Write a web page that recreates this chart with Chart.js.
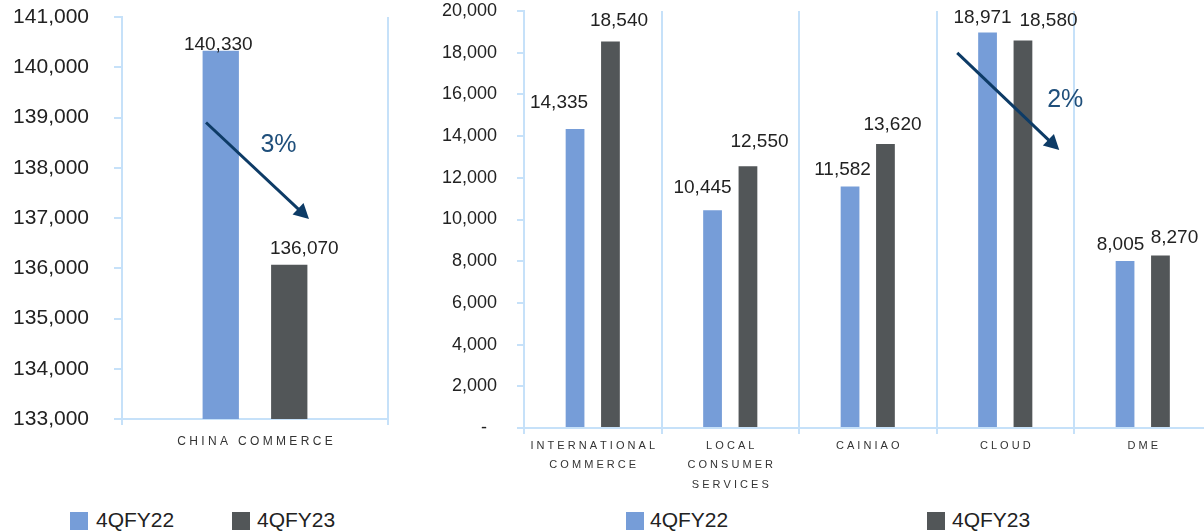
<!DOCTYPE html>
<html lang="en">
<head>
<meta charset="UTF-8">
<title>Revenue by segment, 4QFY22 vs 4QFY23</title>
<script src="https://cdn.jsdelivr.net/npm/chart.js"></script>
<style>
  html, body { margin: 0; padding: 0; background: #fff; }
  body {
    width: 1204px; height: 532px; position: relative; overflow: hidden;
    font-family: 'Liberation Sans', Arial, sans-serif; color: #222;
  }
  canvas { position: absolute; top: 0; }
  #chinaChart { left: 0; }
  #otherChart { left: 420px; }
  .legend-box { position: absolute; top: 512px; width: 18px; height: 18px; }
  .legend-text { position: absolute; top: 509px; font-size: 21px; line-height: 21px; white-space: nowrap; }
</style>
</head>
<body>
<canvas id="chinaChart" width="400" height="500"></canvas>
<canvas id="otherChart" width="800" height="500"></canvas>
<div id="legends"></div>

<script>
const seriesNames = ['4QFY22', '4QFY23'];
const seriesColors = ['#769dd8', '#525658'];

// China commerce (RMB mn)
const chinaCategories = ['CHINA COMMERCE'];
const china4QFY22 = [140330];
const china4QFY23 = [136070];
const chinaAxis = { min: 133000, max: 141000, step: 1000 };

// other segments (RMB mn)
const otherCategories = [['INTERNATIONAL', 'COMMERCE'], ['LOCAL', 'CONSUMER', 'SERVICES'], 'CAINIAO', 'CLOUD', 'DME'];
const other4QFY22 = [14335, 10445, 11582, 18971, 8005];
const other4QFY23 = [18540, 12550, 13620, 18580, 8270];
const otherAxis = { min: 0, max: 20000, step: 2000 };

// value label nudges per bar: [dx, lift above bar top], px
const chinaLabelShift = [[[-2.5, 1]], [[15, 10.5]]];
const otherLabelShift = [
    [[-16, 21], [-10, 17], [-7.5, 11.5], [-5, 9.5], [-4.5, 11]],
    [[8.5, 15], [11.5, 19], [7, 14], [25.5, 14.5], [14, 12.5]]
];

// change arrows: x as px offset from the category centre, y as a value
const chinaChange = { index: 0, text: '3%', from: [-49, 138900], to: [54, 136980], label: [23.5, 138310] };
const otherChange = { index: 3, text: '2%', from: [-48, 17990], to: [54, 13330], label: [60, 15400] };

const FONT = "'Liberation Sans', Arial, sans-serif";
const axisBlue = '#c6e1f9';
Chart.defaults.font.family = FONT;
Chart.defaults.color = '#222';

// wide letter spacing on category names
function spaced(label) {
    const lines = Array.isArray(label) ? label : [label];
    const out = lines.map(l => l.split(' ').map(w => w.split('').join(' ')).join('   '));
    return out.length === 1 ? out[0] : out;
}

const valueLabels = {
    id: 'valueLabels',
    afterDatasetsDraw(chart, args, opts) {
        const ctx = chart.ctx;
        ctx.save();
        ctx.font = '19px ' + FONT;
        ctx.fillStyle = '#222';
        ctx.textAlign = 'center';
        ctx.textBaseline = 'alphabetic';
        chart.data.datasets.forEach((ds, i) => {
            chart.getDatasetMeta(i).data.forEach((bar, j) => {
                const [dx, lift] = opts.shift[i][j];
                ctx.fillText(ds.data[j].toLocaleString('en-US'), bar.x + dx, bar.y - lift);
            });
        });
        ctx.restore();
    }
};

const changeArrow = {
    id: 'changeArrow',
    afterDatasetsDraw(chart, args, opts) {
        const { ctx, scales: { x, y } } = chart;
        const cx = x.getPixelForValue(opts.index);
        const x0 = cx + opts.from[0], y0 = y.getPixelForValue(opts.from[1]);
        const x1 = cx + opts.to[0], y1 = y.getPixelForValue(opts.to[1]);
        const ang = Math.atan2(y1 - y0, x1 - x0);
        const head = 15, half = 8;

        ctx.save();
        ctx.strokeStyle = '#0d3b66';
        ctx.fillStyle = '#0d3b66';
        ctx.lineWidth = 3;
        ctx.beginPath();
        ctx.moveTo(x0, y0);
        ctx.lineTo(x1 - Math.cos(ang) * head * 0.8, y1 - Math.sin(ang) * head * 0.8);
        ctx.stroke();
        ctx.translate(x1, y1);
        ctx.rotate(ang);
        ctx.beginPath();
        ctx.moveTo(0, 0);
        ctx.lineTo(-head, -half);
        ctx.lineTo(-head, half);
        ctx.closePath();
        ctx.fill();
        ctx.restore();

        ctx.save();
        ctx.font = '25px ' + FONT;
        ctx.fillStyle = '#1f4f7b';
        ctx.textAlign = 'center';
        ctx.textBaseline = 'alphabetic';
        ctx.fillText(opts.text, cx + opts.label[0], y.getPixelForValue(opts.label[1]));
        ctx.restore();
    }
};

function makeChart(id, cfg) {
    return new Chart(document.getElementById(id), {
        type: 'bar',
        data: {
            labels: cfg.labels,
            datasets: cfg.series.map((values, i) => ({
                label: seriesNames[i],
                data: values,
                backgroundColor: seriesColors[i],
                borderWidth: 0,
                categoryPercentage: 0.515,
                barPercentage: 0.53
            }))
        },
        options: {
            responsive: false,
            animation: false,
            layout: { padding: { top: cfg.top, right: cfg.right, left: 0, bottom: 0 } },
            plugins: {
                legend: { display: false },
                tooltip: { enabled: false },
                valueLabels: { shift: cfg.shift },
                changeArrow: cfg.change
            },
            scales: {
                x: {
                    grid: { offset: true, color: axisBlue, lineWidth: 2, tickLength: 6 },
                    border: { color: axisBlue, width: 2 },
                    ticks: {
                        color: '#333',
                        padding: cfg.xPad,
                        font: { size: cfg.xFont, lineHeight: cfg.xLine },
                        maxRotation: 0,
                        autoSkip: false,
                        callback: function (v) { return spaced(this.getLabelForValue(v)); }
                    },
                    afterFit: s => { s.height = cfg.xHeight; }
                },
                y: {
                    min: cfg.axis.min,
                    max: cfg.axis.max,
                    grid: { drawOnChartArea: false, color: axisBlue, lineWidth: 2, tickLength: cfg.tickLen },
                    border: { color: axisBlue, width: 2 },
                    ticks: {
                        stepSize: cfg.axis.step,
                        padding: cfg.yPad,
                        font: { size: cfg.yFont },
                        callback: v => v === 0 ? '-  ' : v.toLocaleString('en-US')
                    },
                    // fixed axis width; label overhang is covered by layout padding
                    afterFit: s => {
                        s.width = cfg.yWidth;
                        s.paddingTop = 0;
                        s.paddingBottom = 0;
                    }
                }
            }
        },
        plugins: [valueLabels, changeArrow]
    });
}

makeChart('chinaChart', {
    labels: chinaCategories,
    series: [china4QFY22, china4QFY23],
    axis: chinaAxis,
    shift: chinaLabelShift,
    change: chinaChange,
    top: 17, right: 12,
    yWidth: 122, xHeight: 81,
    yFont: 21, yPad: 25, tickLen: 8,
    xFont: 12, xLine: 1.2, xPad: 9
});

makeChart('otherChart', {
    labels: otherCategories,
    series: [other4QFY22, other4QFY23],
    axis: otherAxis,
    shift: otherLabelShift,
    change: otherChange,
    top: 11, right: 8.5,
    yWidth: 104, xHeight: 72,
    yFont: 18, yPad: 20, tickLen: 7,
    xFont: 11, xLine: 1.75, xPad: 2.5
});

// legends under each panel
const legendSpots = [
    [{ box: 70, text: 96 }, { box: 232, text: 257 }],
    [{ box: 626, text: 650 }, { box: 927, text: 952 }]
];
const legends = document.getElementById('legends');
legendSpots.forEach(panel => {
    panel.forEach((spot, i) => {
        const box = document.createElement('div');
        box.className = 'legend-box';
        box.style.left = spot.box + 'px';
        box.style.background = seriesColors[i];
        const txt = document.createElement('div');
        txt.className = 'legend-text';
        txt.style.left = spot.text + 'px';
        txt.textContent = seriesNames[i];
        legends.appendChild(box);
        legends.appendChild(txt);
    });
});
</script>
</body>
</html>
